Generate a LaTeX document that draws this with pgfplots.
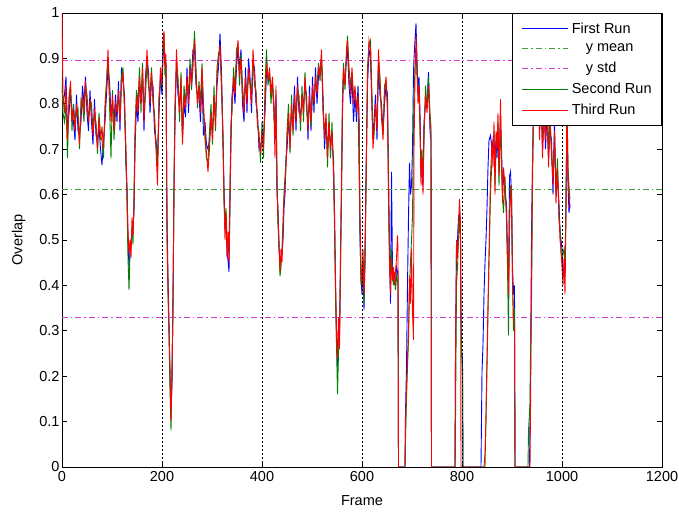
\documentclass[border=0pt]{standalone}
\usepackage{fontspec}
\setmainfont{Liberation Sans}
\usepackage{pgfplots}
\pgfplotsset{compat=1.18}
\usepackage{pgfplotstable}

\definecolor{runblue}{RGB}{0,0,255}
\definecolor{rungreen}{RGB}{0,128,0}
\definecolor{runred}{RGB}{255,0,0}
\definecolor{meangreen}{RGB}{60,160,60}
\definecolor{stdmag}{RGB}{210,60,210}

% frame, first run, second run, third run
\pgfplotstableread{
frame first second third
0 0.84 0.86 1.00
2 0.80 0.78 0.82
5 0.82 0.76 0.78
8 0.86 0.80 0.84
11 0.74 0.68 0.72
14 0.78 0.82 0.80
17 0.82 0.84 0.85
20 0.79 0.74 0.76
23 0.76 0.80 0.79
26 0.72 0.76 0.74
29 0.82 0.78 0.80
32 0.74 0.79 0.77
35 0.73 0.70 0.71
38 0.76 0.81 0.79
41 0.84 0.80 0.82
44 0.80 0.76 0.78
47 0.86 0.84 0.85
50 0.78 0.82 0.80
53 0.74 0.77 0.76
56 0.83 0.79 0.81
59 0.76 0.80 0.78
62 0.71 0.74 0.73
65 0.81 0.77 0.79
68 0.73 0.76 0.75
71 0.72 0.69 0.70
74 0.75 0.78 0.77
77 0.70 0.73 0.72
80 0.665 0.72 0.75
83 0.72 0.68 0.70
86 0.76 0.80 0.78
89 0.82 0.85 0.84
92 0.88 0.90 0.92
95 0.85 0.80 0.83
98 0.78 0.68 0.76
101 0.80 0.83 0.82
104 0.76 0.72 0.74
107 0.82 0.78 0.80
110 0.76 0.80 0.78
113 0.85 0.81 0.83
116 0.74 0.77 0.76
119 0.88 0.86 0.84
122 0.85 0.88 0.87
125 0.82 0.78 0.80
128 0.66 0.68 0.70
130 0.62 0.58 0.60
132 0.50 0.46 0.52
134 0.44 0.39 0.47
136 0.48 0.47 0.50
138 0.50 0.48 0.46
140 0.51 0.53 0.55
142 0.53 0.49 0.51
144 0.56 0.60 0.58
146 0.70 0.74 0.72
149 0.80 0.83 0.82
152 0.76 0.80 0.78
155 0.84 0.88 0.86
158 0.82 0.78 0.80
161 0.86 0.89 0.88
164 0.74 0.78 0.76
167 0.86 0.82 0.84
170 0.90 0.89 0.92
173 0.87 0.84 0.85
176 0.78 0.82 0.80
179 0.85 0.88 0.87
182 0.84 0.80 0.82
185 0.74 0.78 0.76
188 0.72 0.71 0.70
191 0.68 0.66 0.62
194 0.78 0.82 0.80
197 0.86 0.84 0.88
200 0.82 0.86 0.84
202 0.90 0.92 0.94
204 0.93 0.955 0.96
206 0.90 0.86 0.88
208 0.88 0.89 0.91
210 0.55 0.50 0.52
212 0.42 0.38 0.40
214 0.32 0.29 0.30
216 0.20 0.17 0.22
218 0.14 0.08 0.10
220 0.18 0.22 0.20
222 0.38 0.34 0.36
224 0.62 0.63 0.60
226 0.76 0.80 0.78
229 0.90 0.88 0.92
232 0.82 0.86 0.84
235 0.80 0.76 0.78
238 0.84 0.87 0.86
241 0.73 0.72 0.71
244 0.80 0.84 0.82
247 0.77 0.80 0.79
250 0.88 0.85 0.86
253 0.78 0.82 0.80
256 0.86 0.90 0.88
259 0.86 0.83 0.84
262 0.92 0.88 0.90
265 0.92 0.96 0.94
268 0.84 0.88 0.86
271 0.82 0.79 0.80
274 0.82 0.85 0.84
277 0.76 0.80 0.78
280 0.86 0.89 0.88
283 0.73 0.78 0.80
286 0.76 0.72 0.74
289 0.71 0.68 0.69
292 0.70 0.67 0.65
295 0.72 0.74 0.70
298 0.76 0.80 0.78
301 0.74 0.71 0.72
304 0.80 0.84 0.82
307 0.77 0.74 0.75
310 0.84 0.88 0.86
313 0.88 0.91 0.90
316 0.955 0.92 0.93
319 0.87 0.83 0.85
322 0.72 0.74 0.70
324 0.62 0.58 0.60
326 0.52 0.54 0.50
328 0.54 0.57 0.56
330 0.48 0.50 0.46
332 0.455 0.49 0.52
334 0.43 0.47 0.45
336 0.58 0.62 0.60
338 0.72 0.76 0.74
340 0.82 0.78 0.80
343 0.84 0.88 0.86
346 0.80 0.83 0.82
349 0.88 0.92 0.90
352 0.92 0.93 0.94
355 0.88 0.84 0.86
358 0.92 0.91 0.90
361 0.80 0.84 0.82
364 0.76 0.80 0.78
367 0.88 0.85 0.86
370 0.78 0.82 0.80
373 0.90 0.86 0.88
376 0.86 0.85 0.84
379 0.78 0.82 0.80
382 0.89 0.90 0.92
385 0.88 0.84 0.86
388 0.80 0.83 0.82
391 0.78 0.75 0.76
394 0.70 0.74 0.72
397 0.71 0.67 0.69
400 0.72 0.76 0.74
403 0.73 0.68 0.70
406 0.78 0.84 0.80
409 0.87 0.92 0.89
412 0.86 0.84 0.85
415 0.86 0.87 0.88
418 0.84 0.80 0.82
421 0.84 0.85 0.86
424 0.80 0.77 0.78
426 0.72 0.74 0.68
428 0.82 0.80 0.84
430 0.60 0.64 0.62
432 0.57 0.53 0.55
434 0.48 0.49 0.50
436 0.45 0.42 0.43
438 0.46 0.44 0.48
440 0.47 0.48 0.45
442 0.50 0.54 0.52
444 0.57 0.60 0.59
446 0.60 0.64 0.62
448 0.68 0.67 0.66
450 0.70 0.74 0.72
453 0.76 0.80 0.78
456 0.72 0.69 0.70
459 0.78 0.82 0.80
462 0.76 0.73 0.74
465 0.84 0.80 0.82
468 0.74 0.78 0.76
471 0.86 0.83 0.84
474 0.78 0.82 0.80
477 0.78 0.74 0.76
480 0.80 0.84 0.82
483 0.80 0.76 0.78
486 0.84 0.87 0.86
489 0.82 0.79 0.80
492 0.72 0.76 0.74
495 0.84 0.81 0.82
498 0.74 0.75 0.76
501 0.86 0.82 0.84
504 0.78 0.81 0.80
507 0.88 0.84 0.86
510 0.80 0.84 0.82
513 0.86 0.89 0.88
516 0.88 0.85 0.86
519 0.90 0.91 0.92
522 0.82 0.78 0.80
525 0.70 0.74 0.72
528 0.76 0.77 0.78
531 0.70 0.66 0.68
534 0.74 0.78 0.76
537 0.72 0.68 0.70
540 0.72 0.76 0.74
543 0.68 0.64 0.66
545 0.57 0.53 0.55
547 0.40 0.38 0.42
549 0.28 0.27 0.30
551 0.22 0.16 0.24
553 0.30 0.25 0.33
555 0.28 0.30 0.26
557 0.47 0.43 0.45
559 0.60 0.64 0.62
561 0.78 0.82 0.80
563 0.86 0.89 0.88
566 0.86 0.83 0.84
569 0.90 0.91 0.92
571 0.92 0.95 0.94
574 0.84 0.88 0.86
577 0.80 0.84 0.82
580 0.86 0.87 0.88
583 0.76 0.82 0.80
586 0.82 0.83 0.84
589 0.76 0.80 0.78
592 0.84 0.81 0.82
594 0.78 0.66 0.76
596 0.50 0.52 0.55
598 0.42 0.40 0.45
600 0.38 0.42 0.40
602 0.44 0.46 0.48
604 0.346 0.36 0.38
606 0.46 0.49 0.44
608 0.64 0.60 0.62
611 0.84 0.88 0.86
614 0.92 0.93 0.94
617 0.90 0.94 0.92
620 0.80 0.82 0.78
622 0.72 0.74 0.70
624 0.76 0.73 0.74
627 0.82 0.79 0.80
630 0.72 0.76 0.74
633 0.88 0.90 0.92
636 0.82 0.86 0.84
639 0.80 0.77 0.78
642 0.74 0.73 0.72
645 0.80 0.84 0.82
648 0.84 0.85 0.86
651 0.82 0.78 0.80
653 0.62 0.66 0.58
655 0.47 0.49 0.45
657 0.36 0.40 0.38
659 0.65 0.48 0.46
661 0.43 0.42 0.41
663 0.42 0.40 0.44
665 0.41 0.43 0.40
667 0.40 0.39 0.43
669 0.44 0.42 0.46
671 0.43 0.41 0.51
672 0.42 0.40 0.48
673 0 0 0
686 0 0 0
687 0.12 0.06 0.09
689 0.22 0.15 0.18
691 0.40 0.22 0.24
693 0.55 0.28 0.30
695 0.67 0.40 0.42
697 0.60 0.45 0.36
699 0.62 0.50 0.48
701 0.70 0.55 0.34
703 0.87 0.75 0.28
704 0.90 0.82 0.70
706 0.94 0.88 0.86
708 0.977 0.92 0.95
710 0.90 0.86 0.88
712 0.82 0.84 0.80
714 0.86 0.82 0.84
716 0.78 0.74 0.76
718 0.64 0.66 0.62
720 0.66 0.70 0.68
722 0.62 0.64 0.60
724 0.76 0.72 0.74
727 0.80 0.84 0.82
730 0.80 0.79 0.78
733 0.87 0.86 0.84
736 0.74 0.78 0.76
738 0.72 0.75 0.74
739 0 0 0
786 0 0 0
787 0.26 0.10 0.24
789 0.48 0.40 0.50
791 0.50 0.44 0.46
793 0.55 0.50 0.53
795 0.56 0.55 0.59
797 0.52 0.50 0.54
798 0.35 0.33 0
799 0.26 0.25 0
801 0.24 0.20 0
802 0 0 0
838 0 0 0
840 0.21 0 0
842 0.27 0 0
844 0.38 0 0
846 0.45 0.03 0
848 0.50 0.10 0.12
850 0.57 0.22 0.24
852 0.66 0.34 0.36
854 0.72 0.46 0.46
857 0.73 0.60 0.64
860 0.70 0.68 0.72
862 0.72 0.70 0.66
864 0.70 0.74 0.76
866 0.68 0.62 0.60
868 0.72 0.70 0.74
870 0.68 0.72 0.70
872 0.74 0.76 0.78
874 0.66 0.62 0.64
877 0.76 0.78 0.81
879 0.70 0.66 0.68
881 0.62 0.60 0.58
883 0.64 0.56 0.66
886 0.60 0.64 0.62
889 0.58 0.54 0.56
891 0.46 0.44 0.48
893 0.40 0.29 0.38
895 0.64 0.56 0.52
897 0.65 0.60 0.62
899 0.60 0.62 0.58
901 0.44 0.40 0.42
903 0.38 0.30 0.33
905 0.40 0.35 0.30
906 0 0 0
932 0 0 0
933 0 0.08 0
935 0 0.12 0
936 0.10 0.14 0
937 0.20 0.25 0.12
939 0.51 0.36 0.40
941 0.67 0.62 0.66
943 0.78 0.79 0.80
946 0.86 0.90 0.88
949 0.84 0.80 0.82
952 0.88 0.86 0.90
955 0.74 0.76 0.72
958 0.82 0.80 0.84
961 0.70 0.72 0.68
964 0.80 0.76 0.78
967 0.70 0.74 0.72
970 0.78 0.82 0.80
973 0.68 0.70 0.66
976 0.74 0.78 0.76
979 0.72 0.68 0.70
982 0.60 0.64 0.62
985 0.76 0.72 0.74
988 0.60 0.62 0.58
991 0.64 0.68 0.66
994 0.58 0.54 0.56
996 0.52 0.53 0.50
998 0.50 0.47 0.48
1000 0.48 0.46 0.44
1002 0.42 0.47 0.40
1004 0.44 0.48 0.46
1006 0.42 0.44 0.38
1008 0.58 0.60 0.56
1010 0.78 0.80 0.82
1012 0.62 0.66 0.64
1014 0.56 0.62 0.60
1016 0.58 0.59 0.57
}\runs

\begin{document}
\begin{tikzpicture}
\begin{axis}[
  scale only axis,
  width=600bp, height=454bp,
  xmin=0, xmax=1200, ymin=0, ymax=1,
  xtick={0,200,400,600,800,1000,1200},
  xticklabels={0,200,400,600,800,1000,1200},
  ytick={0,0.1,0.2,0.3,0.4,0.5,0.6,0.7,0.8,0.9,1},
  yticklabels={0,0.1,0.2,0.3,0.4,0.5,0.6,0.7,0.8,0.9,1},
  xtick pos=both, ytick pos=both,
  tick align=inside,
  major tick length=5bp,
  every tick/.style={black, line width=0.6bp},
  axis line style={black, line width=0.8bp},
  tick label style={font=\fontsize{14.5bp}{17bp}\selectfont},
  xticklabel style={yshift=-1bp},
  yticklabel style={xshift=1bp},
  label style={font=\fontsize{14.5bp}{17bp}\selectfont},
  xlabel={Frame}, ylabel={Overlap},
  xlabel style={at={(rel axis cs:0.5,0)}, anchor=center, yshift=-34bp},
  ylabel style={at={(axis description cs:-0.0725,0.5)}, anchor=center},
  legend image code/.code={\draw[#1, line width=0.9bp] (0bp,0bp) -- (46bp,0bp);},
  legend style={at={(rel axis cs:1,1)}, anchor=north east, draw=black,
    line width=0.8bp, fill=white, font=\fontsize{14.5bp}{17bp}\selectfont,
    inner xsep=9bp, inner ysep=8.5bp, row sep=7bp, column sep=2bp,
    nodes={inner sep=1bp}},
  legend cell align=left,
]
\addplot[color=runblue, line width=0.9bp] table[x=frame, y=first] {\runs};
\addlegendentry{First Run}
\addplot[color=meangreen, line width=1.2bp, dash pattern=on 6bp off 3bp on 1.5bp off 3bp] coordinates {(0,0.612) (1200,0.612)};
\addlegendentry{\hspace{14bp}y mean}
\addplot[color=stdmag, line width=1.2bp, dash pattern=on 6bp off 3bp on 1.5bp off 3bp] coordinates {(0,0.896) (1200,0.896)};
\addlegendentry{\hspace{14bp}y std}
\addplot[color=stdmag, line width=1.2bp, dash pattern=on 6bp off 3bp on 1.5bp off 3bp, forget plot] coordinates {(0,0.329) (1200,0.329)};
\addplot[color=rungreen, line width=0.9bp] table[x=frame, y=second] {\runs};
\addlegendentry{Second Run}
\addplot[color=runred, line width=0.9bp] table[x=frame, y=third] {\runs};
\addlegendentry{Third Run}
\addplot[color=black, line width=0.7bp, dash pattern=on 2bp off 2bp, forget plot] coordinates {(200,0) (200,1)};
\addplot[color=black, line width=0.7bp, dash pattern=on 2bp off 2bp, forget plot] coordinates {(400,0) (400,1)};
\addplot[color=black, line width=0.7bp, dash pattern=on 2bp off 2bp, forget plot] coordinates {(600,0) (600,1)};
\addplot[color=black, line width=0.7bp, dash pattern=on 2bp off 2bp, forget plot] coordinates {(800,0) (800,1)};
\addplot[color=black, line width=0.7bp, dash pattern=on 2bp off 2bp, forget plot] coordinates {(1000,0) (1000,1)};
\end{axis}
\pgfresetboundingbox
\path[use as bounding box] ([shift={(-62bp,-45bp)}]current axis.south west) rectangle ([shift={(17bp,13bp)}]current axis.north east);
\end{tikzpicture}
\end{document}
